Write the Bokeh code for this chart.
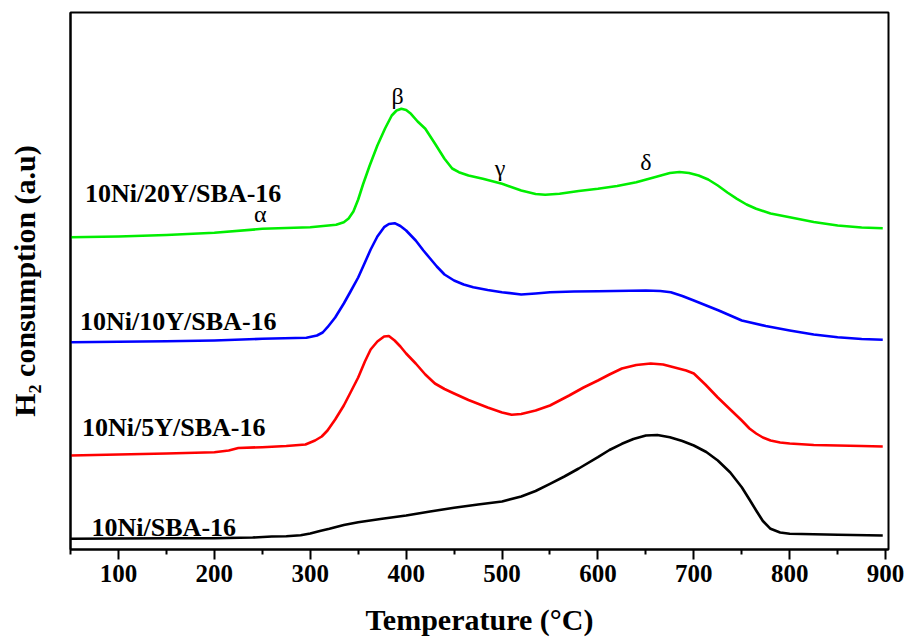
from bokeh.plotting import figure
from bokeh.models import Range1d, FixedTicker
from bokeh.core.properties import value
from bokeh.embed import file_html
from bokeh.resources import INLINE

# ---- data (temperature in °C, signal in arbitrary units) ----
t_black = [50, 100, 150, 200, 240, 260, 275, 290, 300, 310, 320, 335, 350, 375, 400, 425, 450, 475,
           500, 520, 535, 550, 565, 580, 600, 612, 625, 637, 650, 662, 675, 688, 700, 713, 725,
           738, 750, 758, 765, 772, 780, 790, 800, 850, 897]
h_black = [10.7, 11, 11.2, 11.3, 12, 13, 13.3, 14.2, 16, 18.5, 20.7, 24.5, 27.3, 30.7, 34, 38, 41.7, 45,
           48, 53, 58.5, 65.7, 73, 81, 92.3, 99.5, 105.7, 110.5, 114, 114.5, 112.3, 108.5, 104, 97.5, 89,
           77, 62.3, 50, 39, 28.5, 20.7, 17, 15.7, 14.7, 14]

t_red = [50, 100, 150, 200, 215, 225, 250, 275, 295, 305, 312, 318, 326, 335, 342, 350, 357, 363,
         370, 377, 382, 388, 394, 400, 410, 420, 430, 440, 450, 465, 485, 500, 510, 520, 535, 550,
         570, 585, 600, 612, 625, 640, 655, 668, 680, 692, 700, 712, 725, 738, 750, 758, 765, 772,
         780, 790, 800, 825, 850, 875, 897]
h_red = [94, 95, 96, 97.3, 99, 101.5, 102.3, 103.5, 105, 109, 113, 119, 130, 144, 157, 172, 188, 200,
         208, 213, 213.5, 209, 203, 196, 186, 175, 166, 160.5, 156, 149.5, 142, 137, 134.7, 135.5, 139, 144,
         154, 162, 169, 175, 181, 184.5, 186, 185, 182, 179, 176, 165, 152, 140, 129, 121, 116, 112,
         109, 107, 106, 104.5, 104, 103.5, 103]

t_blue = [50, 150, 200, 250, 296, 307, 313, 318, 326, 335, 342, 350, 357, 363, 370, 377, 382, 388,
          394, 400, 405, 410, 418, 425, 432, 440, 450, 460, 470, 485, 500, 520, 535, 550, 575, 600,
          650, 665, 676, 688, 700, 713, 726, 738, 750, 775, 800, 825, 850, 875, 897]
h_blue = [207.3, 208.3, 209, 210.7, 211.7, 214, 217, 222.3, 232, 246, 258, 272, 287, 300, 313, 322.3, 325.5, 326.3,
          323.5, 319, 314, 309, 299, 291, 283, 275, 269, 265, 262.3, 259.5, 257.3, 255, 256, 257.3, 258, 258.3,
          259, 258.5, 257.3, 253.5, 249, 244, 239, 234, 229, 223.5, 219, 215, 212.3, 210.5, 209.7]

t_green = [50, 100, 150, 200, 250, 300, 327, 335, 340, 345, 350, 355, 362, 370, 378, 385, 390, 395,
           400, 405, 412, 420, 430, 440, 448, 455, 465, 480, 500, 520, 535, 545, 560, 580, 600, 620,
           640, 660, 675, 685, 695, 705, 715, 725, 735, 745, 755, 765, 780, 800, 825, 850, 875, 897]
h_green = [312.3, 313, 314.5, 316.7, 320.7, 322.3, 324.7, 327.3, 331, 338, 350, 365, 384, 404, 421, 434, 439, 440.7,
           439.5, 435.7, 428, 420.7, 406, 390.7, 381, 377.3, 374, 370.7, 365.7, 359, 355.5, 354.7, 355.8, 358.5, 360.7, 363.5,
           367.3, 372.5, 376.5, 377.5, 376.5, 374, 370, 364, 357, 350.7, 345, 340.7, 336, 332.3, 327.5, 324, 322, 321.3]

series_names = ["10Ni/20Y/SBA-16", "10Ni/10Y/SBA-16", "10Ni/5Y/SBA-16", "10Ni/SBA-16"]
peak_names = ["α", "β", "γ", "δ"]
x_ticks = [100, 200, 300, 400, 500, 600, 700, 800, 900]
x_minor = [50, 150, 250, 350, 450, 550, 650, 750, 850]

# ---- figure ----
p = figure(width=909, height=638, output_backend="svg", toolbar_location=None,
           x_range=Range1d(50, 903), y_range=Range1d(0, 537),
           min_border_left=70, min_border_right=21, min_border_top=12, min_border_bottom=89)
p.background_fill_color = "white"
p.border_fill_color = "white"
p.outline_line_color = "black"
p.outline_line_width = 2
p.xgrid.visible = False
p.ygrid.visible = False

serif = "Liberation Serif"

lw = 2.6
p.line(t_black, h_black, line_color="black", line_width=lw, line_join="round")
p.line(t_red, h_red, line_color="#ff0000", line_width=lw, line_join="round")
p.line(t_blue, h_blue, line_color="#0000ff", line_width=lw, line_join="round")
p.line(t_green, h_green, line_color="#00ee00", line_width=lw, line_join="round")

# series labels
p.text(x=[65, 60, 62, 72], y=[356, 228, 122, 22], text=series_names,
       text_font=value(serif), text_font_style="bold", text_font_size="26px",
       text_align="left", text_baseline="alphabetic", text_color="black")

# peak labels
p.text(x=[248, 391, 498, 650], y=[336, 454, 382, 388], text=peak_names,
       text_font=value(serif), text_font_size="24px",
       text_align="center", text_baseline="middle", text_color="black")

# x axis
xa = p.xaxis[0]
xa.ticker = FixedTicker(ticks=x_ticks, minor_ticks=x_minor)
xa.axis_label = "Temperature (°C)"
xa.axis_label_text_font = serif
xa.axis_label_text_font_style = "bold"
xa.axis_label_text_font_size = "30px"
xa.axis_label_text_color = "black"
xa.axis_label_standoff = 18
xa.major_label_text_font = serif
xa.major_label_text_font_style = "bold"
xa.major_label_text_font_size = "25px"
xa.major_label_text_color = "black"
xa.major_label_standoff = 5
xa.axis_line_width = 2
xa.axis_line_color = "black"
xa.major_tick_in = 0
xa.major_tick_out = 10
xa.minor_tick_in = 0
xa.minor_tick_out = 5
xa.major_tick_line_width = 2
xa.minor_tick_line_width = 2
xa.major_tick_line_color = "black"
xa.minor_tick_line_color = "black"

# y axis (no ticks)
ya = p.yaxis[0]
ya.ticker = FixedTicker(ticks=[])
ya.axis_label = "H₂ consumption (a.u)"
ya.axis_label_text_font = serif
ya.axis_label_text_font_style = "bold"
ya.axis_label_text_font_size = "30px"
ya.axis_label_text_color = "black"
ya.axis_label_standoff = 30
ya.axis_line_width = 2
ya.axis_line_color = "black"
ya.major_tick_out = 0
ya.major_tick_in = 0
ya.minor_tick_out = 0
ya.minor_tick_in = 0
ya.major_label_text_font_size = "0px"

open("out.html", "w").write(file_html(p, INLINE))
